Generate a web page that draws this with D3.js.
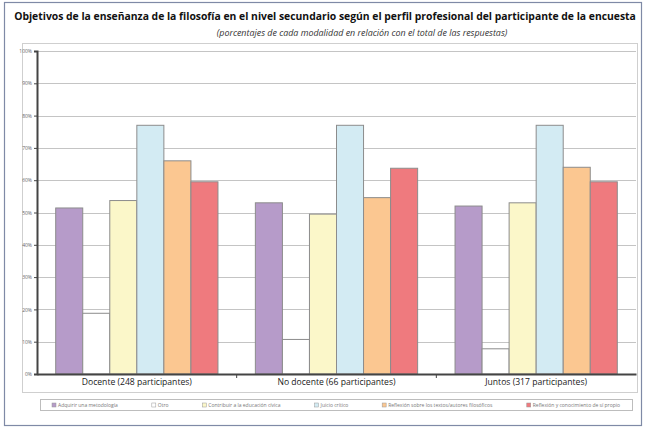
<!DOCTYPE html>
<html>
<head>
<meta charset="utf-8">
<script src="https://cdn.jsdelivr.net/npm/d3@7/dist/d3.min.js"></script>
<style>
  html, body { margin: 0; padding: 0; background: #fff; }
  svg { display: block; font-family: "Open Sans", "Noto Sans", sans-serif; }
</style>
</head>
<body>
<svg id="chart" width="645" height="428"></svg>
<script>
// Survey groups (x categories)
const groups = ["Docente (248 participantes)", "No docente (66 participantes)", "Juntos (317 participantes)"];

// Objectives (series)
const objectives = [
  "Adquirir una metodología",
  "Otro",
  "Contribuir a la educación cívica",
  "Juicio crítico",
  "Reflexión sobre los textos/autores filosóficos",
  "Reflexión y conocimiento de sí propio"
];

// Percentage of respondents per objective, one array per group
const docente   = [51.4, 18.8, 53.7, 77.0, 66.0, 59.5];
const noDocente = [53.0, 10.7, 49.5, 77.0, 54.6, 63.7];
const juntos    = [52.0, 7.8, 53.0, 77.0, 64.0, 59.5];

const yTicks = [0, 10, 20, 30, 40, 50, 60, 70, 80, 90, 100];

const colors = ["#b69bc9", "#ffffff", "#fbf7c9", "#d3ebf3", "#fbc791", "#ef7a7e"];

const values = [docente, noDocente, juntos];

const svg = d3.select("#chart");

// Outer frame
svg.append("rect")
  .attr("x", 4.5).attr("y", 2.5).attr("width", 637).attr("height", 423)
  .attr("fill", "#fff").attr("stroke", "#7f8aa6").attr("stroke-width", 1.2);

// Title and subtitle, fitted to their widths
function fitText(sel, target) {
  const w = sel.node().getComputedTextLength();
  const fs = parseFloat(sel.attr("font-size"));
  sel.attr("font-size", fs * target / w);
}
const title = svg.append("text")
  .attr("x", 325).attr("y", 19.5).attr("text-anchor", "middle")
  .attr("font-size", 10).attr("font-weight", "bold").attr("fill", "#111")
  .text("Objetivos de la enseñanza de la filosofía en el nivel secundario según el perfil profesional del participante de la encuesta");
fitText(title, 622);
const subtitle = svg.append("text")
  .attr("x", 362).attr("y", 36).attr("text-anchor", "middle")
  .attr("font-size", 9).attr("font-style", "italic").attr("fill", "#333")
  .text("(porcentajes de cada modalidad en relación con el total de las respuestas)");
fitText(subtitle, 291);

// Plot area border
svg.append("rect")
  .attr("x", 22.5).attr("y", 43.5).attr("width", 615).attr("height", 349)
  .attr("fill", "none").attr("stroke", "#cfcfcf").attr("stroke-width", 1);

const x0 = d3.scaleBand().domain(groups).range([37, 636]).paddingInner(0).paddingOuter(0);
const x1 = d3.scaleBand().domain(d3.range(objectives.length))
  .range([18.7, x0.bandwidth() - 18.7]).padding(0);
const y = d3.scaleLinear().domain([0, 100]).range([374, 51]);

// Gridlines
svg.append("g").selectAll("line").data(yTicks.filter(d => d > 0)).join("line")
  .attr("x1", 37).attr("x2", 636)
  .attr("y1", d => Math.round(y(d)) + 0.5).attr("y2", d => Math.round(y(d)) + 0.5)
  .attr("stroke", "#c4c4c4").attr("stroke-width", 1);

// Bars
const gBars = svg.append("g");
groups.forEach((g, gi) => {
  gBars.append("g").attr("transform", `translate(${x0(g)},0)`)
    .selectAll("rect").data(values[gi]).join("rect")
    .attr("x", (d, i) => x1(i))
    .attr("y", d => y(d))
    .attr("width", x1.bandwidth())
    .attr("height", d => y(0) - y(d))
    .attr("fill", (d, i) => colors[i])
    .attr("stroke", "#8c8c8c").attr("stroke-width", 1);
});

// Y axis
const yAxis = svg.append("g").attr("transform", "translate(37,0)")
  .call(d3.axisLeft(y).tickValues(yTicks).tickFormat(d => d + "%").tickSize(3).tickPadding(2));
yAxis.select(".domain").attr("stroke", "#444").attr("stroke-width", 2);
yAxis.selectAll(".tick line").attr("stroke", "#444");
yAxis.selectAll(".tick text").attr("font-size", 5).attr("fill", "#666").attr("font-family", "Open Sans, sans-serif");

// X axis
const xAxis = svg.append("g").attr("transform", "translate(0,374)")
  .call(d3.axisBottom(x0).tickSize(0).tickPadding(5));
xAxis.select(".domain").attr("stroke", "#444").attr("stroke-width", 2);
xAxis.selectAll(".tick text").attr("font-size", 8.6).attr("fill", "#222").attr("font-family", "Open Sans, sans-serif");
// Category separator ticks
svg.append("g").selectAll("line").data(groups.slice(1)).join("line")
  .attr("x1", d => x0(d)).attr("x2", d => x0(d))
  .attr("y1", 374).attr("y2", 378)
  .attr("stroke", "#444").attr("stroke-width", 1);

// Legend
const legend = svg.append("g");
legend.append("rect")
  .attr("x", 40.5).attr("y", 399.5).attr("width", 592).attr("height", 11)
  .attr("fill", "#fff").attr("stroke", "#bdbdbd").attr("stroke-width", 1);
const items = legend.selectAll("g.item").data(objectives).join("g").attr("class", "item");
items.append("rect")
  .attr("width", 4).attr("height", 4)
  .attr("fill", (d, i) => colors[i]).attr("stroke", "#999").attr("stroke-width", 0.5);
items.append("text")
  .attr("x", 6).attr("y", 4).attr("font-size", 5).attr("fill", "#777")
  .text(d => d);
// Lay out legend entries across the box
const widths = items.nodes().map(n => n.getBBox().width);
const total = d3.sum(widths);
const gap = (580 - 12 - total) / (objectives.length - 1);
let cx = 52;
items.each(function(d, i) {
  d3.select(this).attr("transform", `translate(${cx},403)`);
  cx += widths[i] + gap;
});
</script>
</body>
</html>
